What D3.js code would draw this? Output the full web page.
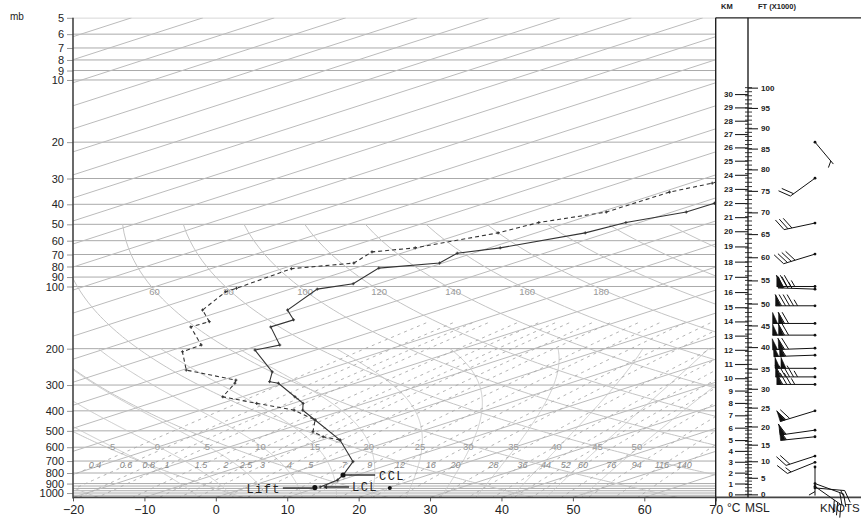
<!DOCTYPE html>
<html lang="en">
<head>
<meta charset="UTF-8" />
<title>Skew-T</title>
<script src="https://cdn.jsdelivr.net/npm/d3@7/dist/d3.min.js"></script>
<style>
  body { margin: 0; background: #fff; }
  svg { display: block; font-family: "Liberation Sans", Arial, sans-serif; }
</style>
</head>
<body>
<svg id="chart" width="861" height="520"></svg>
<script>
// ---- values ----
const pressureTicks = [5, 6, 7, 8, 9, 10, 20, 30, 40, 50, 60, 70, 80, 90, 100, 200, 300, 400, 500, 600, 700, 800, 900, 1000];
const extraIsobars = [925, 950, 975, 1025];
const tempTicks = [-20, -10, 0, 10, 20, 30, 40, 50, 60, 70];
const dryTheta = [-20, 0, 20, 40, 60, 80, 100, 120, 140, 160, 180, 200, 220, 240, 260, 280];
const dryLabels = [60, 80, 100, 120, 140, 160, 180];
const moistTheta = [-5, 0, 5, 10, 15, 20, 25, 30, 35, 40, 45, 50];
const mixRatios = [0.4, 0.6, 0.8, 1, 1.5, 2, 2.5, 3, 4, 5, 7, 9, 12, 16, 20, 28, 36, 44, 52, 60, 76, 94, 116, 140];

// temperature sounding (solid)
const tempP = [935, 865, 818, 705, 554, 443, 397, 368, 342, 294, 289, 259, 203, 192, 157, 145, 130, 103, 97, 81.5, 77, 69, 65, 55, 49, 43.6, 39.5, 36.5];
const tempT = [10.1, 9.5, 8.1, 3.7, -7.5, -19.7, -25.7, -28.6, -32.6, -40.8, -42.7, -46.6, -58.5, -57.2, -66.3, -66.2, -71.3, -76.2, -73.5, -76.7, -70.4, -72.2, -68.5, -63.1, -61.9, -58, -57.9, -57.5];
// dew point sounding (dashed)
const dewP = [554, 534, 505, 443, 397, 368, 342, 294, 284, 254, 207, 192, 157, 148, 130, 106, 102, 82, 77, 68, 65, 55, 49, 43.6, 34.9, 31.6, 29];
const dewT = [-7.5, -11.3, -14.9, -19.7, -26.9, -35.1, -42.7, -46.9, -48.1, -59.4, -67.9, -68.2, -77.5, -77.2, -83.2, -87.9, -87.9, -88.7, -82.4, -84.7, -80.4, -75.3, -74.1, -69.2, -69, -66.9, -66.5];

// parcel markers
const markerNames = ['Lift', 'LCL', 'CCL'];
const markerP = [941, 935, 818];
const markerT = [9.6, 10.5, 8.1];
const surfaceP = 946, surfaceT = 20.3;

// winds
const windP = [20, 29.9, 49.3, 69.7, 100, 103, 124, 151, 172, 199, 215, 249, 274, 298, 400, 496, 534, 662, 710, 748, 900, 930, 945];
const windDir = [140, 234, 258, 253, 270, 272, 270, 270, 270, 268, 268, 270, 270, 270, 253, 262, 264, 252, 248, 180, 110, 125, 95];
const windSpd = [5, 20, 30, 40, 85, 75, 95, 120, 120, 120, 110, 100, 95, 85, 70, 60, 55, 20, 15, 5, 20, 30, 15];

// height ladder anchors (km -> pressure)
const kmAnchors = [0, 5, 10, 15, 20, 25, 30];
const kmAnchorP = [1015, 554, 278, 126, 54, 24.6, 11.7];

// ---- layout ----
const pL = 73, pR = 715.7, pT = 17.8, pB = 497.4;
const skew = 3.1;
const svg = d3.select('#chart');

const y = d3.scaleLog().domain([1050, 5]).range([pB, pT]);
const xT = d3.scaleLinear().domain([-20, 70]).range([pL, pR]);
const X = (T, p) => xT(T) + skew * (pB - y(p));

svg.append('clipPath').attr('id', 'plot')
  .append('rect').attr('x', pL).attr('y', pT)
  .attr('width', pR - pL).attr('height', pB - pT);

const grid = svg.append('g').attr('clip-path', 'url(#plot)');
const line = d3.line().x(d => X(d[1], d[0])).y(d => y(d[0]));

// isobars
grid.selectAll('.isobar')
  .data(pressureTicks.concat(extraIsobars))
  .enter().append('line')
  .attr('x1', pL).attr('x2', pR)
  .attr('y1', d => y(d)).attr('y2', d => y(d))
  .attr('stroke', '#aaa').attr('stroke-width', 1);

// isotherms
grid.selectAll('.isotherm')
  .data(d3.range(-240, 71, 10))
  .enter().append('line')
  .attr('x1', d => X(d, 1050)).attr('y1', y(1050))
  .attr('x2', d => X(d, 5)).attr('y2', y(5))
  .attr('stroke', '#bbb').attr('stroke-width', 1);

// dry adiabats
const dryP = d3.range(50, 1051, 5);
const dryT = (th, p) => (th + 273.15) * Math.pow(p / 1000, 0.2857) - 273.15;
grid.selectAll('.dry')
  .data(dryTheta)
  .enter().append('path')
  .attr('d', th => line(dryP.map(p => [p, dryT(th, p)])))
  .attr('fill', 'none').attr('stroke', '#c4c4c4').attr('stroke-width', 1);

// moist adiabats
function moistLapse(p, tk) {
  const tc = tk - 273.15;
  const es = 6.112 * Math.exp(17.67 * tc / (tc + 243.5));
  const rs = 0.622 * es / (p - es);
  const num = 287.04 * tk + 2.501e6 * rs;
  const den = 1005.7 + (2.501e6 * 2.501e6 * rs * 0.622) / (287.04 * tk * tk);
  return num / (den * p);
}
function moistCurve(tw, pTop) {
  const up = [], down = [];
  let tk = tw + 273.15;
  for (let p = 1000; p >= pTop; p -= 2) {
    up.push([p, tk - 273.15]);
    const k1 = moistLapse(p, tk);
    const k2 = moistLapse(p - 1, tk - k1);
    tk -= 2 * k2;
  }
  tk = tw + 273.15;
  for (let p = 1000; p <= 1052; p += 2) {
    down.push([p, tk - 273.15]);
    const k1 = moistLapse(p, tk);
    const k2 = moistLapse(p + 1, tk + k1);
    tk += 2 * k2;
  }
  return down.reverse().concat(up.slice(1));
}
const moistCurves = moistTheta.map(tw => moistCurve(tw, 200));
grid.selectAll('.moist')
  .data(moistCurves)
  .enter().append('path')
  .attr('d', line)
  .attr('fill', 'none').attr('stroke', '#c8c8c8').attr('stroke-width', 1);

// mixing ratio lines
const tdFromW = (w, p) => {
  const e = w * p / (622 + w);
  const l = Math.log(e / 6.112);
  return 243.5 * l / (17.67 - l);
};
const mixP = d3.range(150, 1051, 10);
grid.selectAll('.mix')
  .data(mixRatios)
  .enter().append('path')
  .attr('d', w => line(mixP.map(p => [p, tdFromW(w, p)])))
  .attr('fill', 'none').attr('stroke', '#aaa').attr('stroke-width', 0.9)
  .attr('stroke-dasharray', '3,4');

// background labels
const lab = svg.append('g').attr('clip-path', 'url(#plot)')
  .attr('fill', '#999').attr('font-size', 9.5);
lab.selectAll('.dl').data(dryLabels).enter().append('text')
  .attr('x', th => X(dryT(th, 100), 100) - 2)
  .attr('y', y(100) + 9)
  .text(d => d);
const moistAt600 = moistCurves.map(c => c.find(d => d[0] <= 600));
lab.selectAll('.ml').data(moistTheta).enter().append('text')
  .attr('text-anchor', 'middle')
  .attr('x', (d, i) => X(moistAt600[i][1], 600) - 2)
  .attr('y', y(600) + 3)
  .text(d => d);
lab.selectAll('.wl').data(mixRatios).enter().append('text')
  .attr('text-anchor', 'middle')
  .attr('x', w => X(tdFromW(w, 735), 735))
  .attr('y', y(735) + 3)
  .attr('font-style', 'italic')
  .attr('font-size', 9)
  .attr('fill', '#888')
  .text(d => d);

// ---- soundings ----
const prof = svg.append('g').attr('clip-path', 'url(#plot)');
const tempData = tempP.map((p, i) => [p, tempT[i]]);
const dewData = dewP.map((p, i) => [p, dewT[i]]);
prof.append('path').attr('d', line(tempData))
  .attr('fill', 'none').attr('stroke', '#333').attr('stroke-width', 1.1);
prof.append('path').attr('d', line(dewData))
  .attr('fill', 'none').attr('stroke', '#333').attr('stroke-width', 1.1)
  .attr('stroke-dasharray', '4,3');
prof.selectAll('.pt').data(tempData.concat(dewData)).enter().append('path')
  .attr('d', d => {
    const px = X(d[1], d[0]), py = y(d[0]);
    return `M${px - 1.5},${py}H${px + 1.5}M${px},${py - 1.5}V${py + 1.5}`;
  })
  .attr('stroke', '#333').attr('stroke-width', 1);

// parcel markers
const mk = svg.append('g').attr('font-family', '"Liberation Mono", "Courier New", monospace')
  .attr('font-size', 12).attr('letter-spacing', 1.4).attr('fill', '#222');
const mx = markerNames.map((n, i) => X(markerT[i], markerP[i]));
const my = markerNames.map((n, i) => y(markerP[i]));
// Lift
mk.append('circle').attr('cx', mx[0]).attr('cy', my[0]).attr('r', 2.6).attr('fill', '#111');
mk.append('line').attr('x1', mx[0] - 32).attr('x2', mx[0] - 2).attr('y1', my[0] + 0.5).attr('y2', my[0] + 0.5)
  .attr('stroke', '#333').attr('stroke-width', 1.5);
mk.append('text').attr('x', mx[0] - 34).attr('y', my[0] + 5).attr('text-anchor', 'end').text(markerNames[0]);
// LCL
mk.append('path').attr('d', `M${mx[1]},${my[1]}l4,-2v4z`).attr('fill', '#111');
mk.append('line').attr('x1', mx[1] + 2).attr('x2', mx[1] + 26).attr('y1', my[1]).attr('y2', my[1])
  .attr('stroke', '#333').attr('stroke-width', 1.5);
mk.append('text').attr('x', mx[1] + 29).attr('y', my[1] + 4.5).text(markerNames[1]);
// CCL
mk.append('circle').attr('cx', mx[2]).attr('cy', my[2]).attr('r', 2.6).attr('fill', '#111');
mk.append('line').attr('x1', mx[2] + 2).attr('x2', mx[2] + 32).attr('y1', my[2]).attr('y2', my[2])
  .attr('stroke', '#333').attr('stroke-width', 1.5);
mk.append('text').attr('x', mx[2] + 36).attr('y', my[2] + 4.5).text(markerNames[2]);
// surface temperature dot
mk.append('circle').attr('cx', X(surfaceT, surfaceP)).attr('cy', y(surfaceP)).attr('r', 2).attr('fill', '#111');

// ---- axes ----
const yAxis = svg.append('g').attr('transform', `translate(${pL},0)`)
  .call(d3.axisLeft(y).tickValues(pressureTicks).tickFormat(d3.format('d')).tickSize(6).tickPadding(3));
yAxis.select('.domain').remove();
yAxis.selectAll('.tick line').attr('stroke', '#999');
yAxis.selectAll('.tick text').attr('font-size', 11).attr('fill', '#222')
  .attr('font-family', '"Liberation Sans", Arial, sans-serif');

const xAxis = svg.append('g').attr('transform', `translate(0,${pB})`)
  .call(d3.axisBottom(xT).tickValues(tempTicks).tickSize(4).tickPadding(4));
xAxis.select('.domain').remove();
xAxis.selectAll('.tick line').attr('stroke', '#555');
xAxis.selectAll('.tick text').attr('font-size', 12.5).attr('fill', '#222')
  .attr('font-family', '"Liberation Sans", Arial, sans-serif');

svg.append('line').attr('x1', pL).attr('x2', pL).attr('y1', pT).attr('y2', pB + 1)
  .attr('stroke', '#444').attr('stroke-width', 1.6);
svg.append('line').attr('x1', pL).attr('x2', 861).attr('y1', pB).attr('y2', pB)
  .attr('stroke', '#444').attr('stroke-width', 1.6);
svg.append('line').attr('x1', pR).attr('x2', pR).attr('y1', pT).attr('y2', pB + 8)
  .attr('stroke', '#222').attr('stroke-width', 1.4);
svg.append('line').attr('x1', pR).attr('x2', 861).attr('y1', pT).attr('y2', pT)
  .attr('stroke', '#222').attr('stroke-width', 1.2);

svg.append('text').attr('x', 10).attr('y', 20).attr('font-size', 10).attr('fill', '#222').text('mb');
svg.append('text').attr('x', 727).attr('y', 512).attr('font-size', 12).attr('fill', '#222').text('°C');

// ---- height ladder ----
const ladderX = 748;
const kmY = d3.scaleLinear().domain(kmAnchors).range(kmAnchorP.map(p => y(p)));
const ftY = d3.scaleLinear().domain(kmAnchors.map(k => k / 0.3048)).range(kmAnchorP.map(p => y(p)));
svg.append('line').attr('x1', ladderX).attr('x2', ladderX).attr('y1', pT).attr('y2', pB)
  .attr('stroke', '#222').attr('stroke-width', 1.4);

const ftMinor = svg.append('g');
ftMinor.selectAll('line').data(d3.range(0, 101, 1)).enter().append('line')
  .attr('x1', ladderX - 3).attr('x2', ladderX + 4)
  .attr('y1', d => ftY(d)).attr('y2', d => ftY(d))
  .attr('stroke', '#222').attr('stroke-width', 0.9);

const kmAxis = svg.append('g').attr('transform', `translate(${ladderX},0)`)
  .call(d3.axisLeft(kmY).tickValues(d3.range(0, 31)).tickSize(13).tickPadding(2));
kmAxis.select('.domain').remove();
kmAxis.selectAll('.tick line').attr('stroke', '#222').attr('stroke-width', 1.1);
kmAxis.selectAll('.tick text').attr('font-size', 8).attr('font-weight', 'bold').attr('fill', '#222');

const ftAxis = svg.append('g').attr('transform', `translate(${ladderX},0)`)
  .call(d3.axisRight(ftY).tickValues(d3.range(0, 101, 5)).tickSize(10).tickPadding(3));
ftAxis.select('.domain').remove();
ftAxis.selectAll('.tick line').attr('stroke', '#222').attr('stroke-width', 1.1);
ftAxis.selectAll('.tick text').attr('font-size', 8).attr('font-weight', 'bold').attr('fill', '#222');

const hdr = svg.append('g').attr('font-size', 7.5).attr('font-weight', 'bold').attr('fill', '#222');
hdr.append('text').attr('x', 721).attr('y', 9).text('KM');
hdr.append('text').attr('x', 758).attr('y', 9).text('FT (X1000)');
svg.append('text').attr('x', 745).attr('y', 512).attr('font-size', 12).attr('fill', '#222').text('MSL');
svg.append('text').attr('x', 820).attr('y', 512).attr('font-size', 11.5).attr('fill', '#222').text('KNOTS');

// ---- wind barbs ----
const stationX = 815;
const rot = (vx, vy, a) => [vx * Math.cos(a) - vy * Math.sin(a), vx * Math.sin(a) + vy * Math.cos(a)];
const barbs = svg.append('g').attr('stroke', '#111').attr('stroke-width', 1).attr('fill', '#111');
windP.forEach((p, i) => {
  const sx = stationX, sy = y(p);
  const r = windDir[i] * Math.PI / 180;
  const ux = Math.sin(r), uy = -Math.cos(r);
  const L = 28 + 0.12 * windSpd[i];
  const ex = sx + L * ux, ey = sy + L * uy;
  const [bx, by] = rot(ux, uy, Math.PI / 3);
  const [px, py] = rot(ux, uy, Math.PI / 2);
  const g = barbs.append('g');
  g.append('line').attr('x1', sx).attr('y1', sy).attr('x2', ex).attr('y2', ey);
  g.append('circle').attr('cx', sx).attr('cy', sy).attr('r', 1.4).attr('stroke', 'none');
  let s = Math.round(windSpd[i] / 5) * 5;
  let pos = 0;
  while (s >= 50) {
    const ax = ex - pos * ux, ay = ey - pos * uy;
    const cx = ex - (pos + 5) * ux, cy = ey - (pos + 5) * uy;
    g.append('path').attr('d', `M${ax},${ay}L${ax + 11 * px},${ay + 11 * py}L${cx},${cy}Z`).attr('stroke-width', 0.6);
    pos += 6; s -= 50;
  }
  while (s >= 10) {
    const ax = ex - pos * ux, ay = ey - pos * uy;
    g.append('line').attr('x1', ax).attr('y1', ay).attr('x2', ax + 13 * bx).attr('y2', ay + 13 * by);
    pos += 4; s -= 10;
  }
  if (s >= 5) {
    if (pos === 0) pos = 4;
    const ax = ex - pos * ux, ay = ey - pos * uy;
    g.append('line').attr('x1', ax).attr('y1', ay).attr('x2', ax + 7 * bx).attr('y2', ay + 7 * by);
  }
});
</script>
</body>
</html>
